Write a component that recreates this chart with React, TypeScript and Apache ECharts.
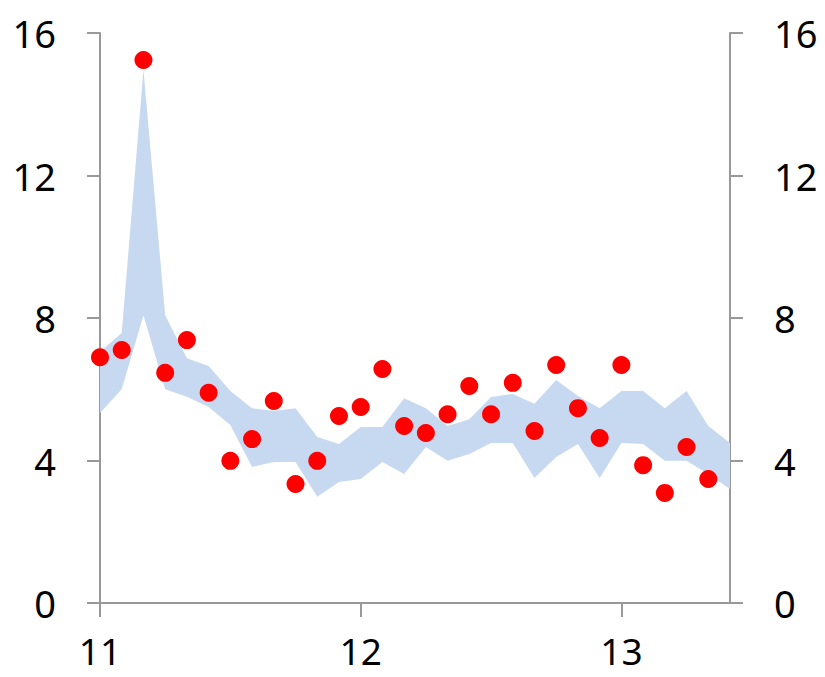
import React, { useEffect, useRef } from "react";
import * as echarts from "echarts";

const xStart = 11;
const step = 1 / 12;
const dotValues = [
  6.9, 7.1, 15.24, 6.46, 7.38, 5.9, 3.99, 4.6, 5.67, 3.34, 3.99, 5.25, 5.5, 6.57,
  4.97, 4.77, 5.3, 6.09, 5.3, 6.18, 4.83, 6.68, 5.47, 4.63, 6.68, 3.87, 3.09, 4.38, 3.48,
];
const bandLower = [
  5.33, 6.0, 8.08, 6.0, 5.79, 5.5, 5.0, 3.82, 3.96, 3.96, 2.98, 3.4, 3.48, 3.96, 3.62,
  4.38, 3.99, 4.18, 4.49, 4.49, 3.51, 4.1, 4.46, 3.51, 4.49, 4.46, 3.99, 3.99, 3.62, 3.2,
];
const bandUpper = [
  7.05, 7.58, 14.96, 8.08, 6.87, 6.65, 5.95, 5.47, 5.39, 5.47, 4.66, 4.46, 4.94, 4.94, 5.75,
  5.47, 4.97, 5.16, 5.78, 5.87, 5.59, 6.26, 5.81, 5.47, 5.95, 5.95, 5.47, 5.95, 4.97, 4.49,
];
const xTicks = [11, 12, 13];
const yTicks = [0, 4, 8, 12, 16];

const FONT = "Noto Sans";

export default function App() {
  const ref = useRef<HTMLDivElement>(null);
  useEffect(() => {
    if (!ref.current) return;
    const chart = echarts.init(ref.current, null, { renderer: "svg" });
    const xAt = (i: number) => xStart + i * step;
    const axisLineStyle = { color: "#999999", width: 2 };
    const yAxisBase = {
      type: "value" as const,
      min: yTicks[0],
      max: yTicks[yTicks.length - 1],
      interval: 4,
      splitLine: { show: false },
      axisLine: { show: true, lineStyle: axisLineStyle },
      axisTick: { show: true, length: 13, lineStyle: axisLineStyle },
      axisLabel: { color: "#000", fontSize: 38, fontFamily: FONT, margin: 44 },
    };
    chart.setOption({
      animation: false,
      grid: { left: 100, right: 95, top: 33, bottom: 74, containLabel: false },
      xAxis: {
        type: "value",
        min: xTicks[0],
        max: 13 + 5 / 12,
        interval: 1,
        splitLine: { show: false },
        axisLine: { show: true, onZero: false, lineStyle: axisLineStyle },
        axisTick: { show: true, length: 14, lineStyle: axisLineStyle },
        axisLabel: {
          color: "#000",
          fontSize: 37,
          lineHeight: 36,
          fontFamily: FONT,
          margin: 29,
          showMaxLabel: false,
          formatter: (v: number) => (xTicks.includes(v) ? String(v) : ""),
        },
      },
      yAxis: [
        { ...yAxisBase, position: "left" },
        { ...yAxisBase, position: "right" },
      ],
      series: [
        {
          type: "custom",
          silent: true,
          clip: true,
          data: bandUpper.map((v, i) => [xAt(i), v, bandLower[i]]),
          encode: { x: 0, y: [1, 2] },
          renderItem: (params: any, api: any) => {
            if (params.dataIndex !== 0) return null;
            const top = bandUpper.map((v, i) => api.coord([xAt(i), v]));
            const bottom = bandLower.map((v, i) => api.coord([xAt(i), v])).reverse();
            return {
              type: "polygon",
              shape: { points: top.concat(bottom) },
              style: { fill: "#c6d9f0", stroke: "none" },
            };
          },
          z: 1,
        },
        {
          type: "scatter",
          symbol: "circle",
          symbolSize: 18,
          itemStyle: { color: "#ff0000", opacity: 1 },
          data: dotValues.map((v, i) => [xAt(i), v]),
          z: 5,
        },
      ],
    });
    return () => chart.dispose();
  }, []);
  return <div ref={ref} style={{ width: 825, height: 677, position: "absolute", left: 0, top: 0 }} />;
}
